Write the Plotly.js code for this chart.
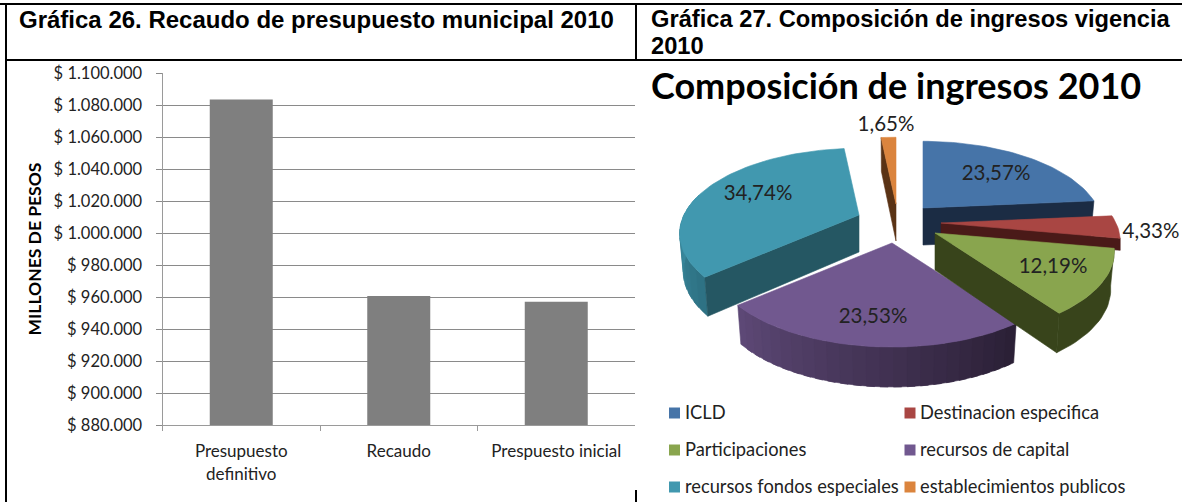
<!DOCTYPE html>
<html><head><meta charset="utf-8">
<script src="https://cdn.plot.ly/plotly-3.0.1.min.js"></script>
<style>html,body{margin:0;padding:0;background:#fff}#c{width:1182px;height:502px}</style>
</head><body><div id="c"></div>
<script>
// ---- data ----
const barCategories = ['Presupuesto<br>definitivo', 'Recaudo', 'Prespuesto inicial'];
const barValues = [1083500, 960700, 957000];
const yTickValues = [880000,900000,920000,940000,960000,980000,1000000,1020000,1040000,1060000,1080000,1100000];
const yTickLabels = ['$ 880.000','$ 900.000','$ 920.000','$ 940.000','$ 960.000','$ 980.000','$ 1.000.000','$ 1.020.000','$ 1.040.000','$ 1.060.000','$ 1.080.000','$ 1.100.000'];
const pieCategories = ['ICLD','Destinacion especifica','Participaciones','recursos de capital','recursos fondos especiales','establecimientos publicos'];
const pieValues = [23.57, 4.33, 12.19, 23.53, 34.74, 1.65];

// ---- styling / layout ----
const W = 1182, H = 502;
const LATO = 'Lato, "Open Sans", sans-serif';
const ARIAL = '"Liberation Sans", Arial, sans-serif';
const pieColors = ['#4674A8','#A94643','#89A54E','#71588F','#4198AF','#DB843D'];
const pieCutColors = ['#1B2C44','#4A1A18','#38441B','#2D2138','#255763','#5A3315'];
const sliceApex = [[923,208],[941,223],[935,233],[892,243],[859,215],[896,204]];
const labelPos = [[996,174.5],[1151,232.5],[1053,267.5],[873,317.5],[758,195],[886,126]];
const legendPos = [[674.5,413],[910,413],[674.5,450],[910,450],[674.5,487],[910,487]];
const legendTextX = [685,920,685,920,685,920];
const legendTextY = [414.5,414.5,451.5,451.5,488.5,488.5];
const RX = 175, RY = 81.3, K = 0.2187;

function rim(i, deg, depth) {
  const a = deg*Math.PI/180, X = Math.sin(a), Y = -Math.cos(a), s = 1/(1-K*Y);
  const d = depth ? (depth===true ? 37+3*Y : depth) : 0, shrink = depth===true ? 0.98 : 1;
  return [sliceApex[i][0] + X*RX*s*shrink, sliceApex[i][1] + Y*RY*s + d];
}
function poly(xy, color) {
  const c = xy.concat([xy[0]]);
  return {x:c.map(p=>p[0]), y:c.map(p=>p[1]), xaxis:'x2', yaxis:'y2', mode:'lines', fill:'toself',
    fillcolor:color, line:{color:color,width:0.6}, hoverinfo:'skip', showlegend:false};
}
function arc(i, a0, a1, depth) {
  const n = Math.max(2, Math.ceil(Math.abs(a1-a0)/2)), out = [];
  for (let k=0;k<=n;k++) out.push(rim(i, a0+(a1-a0)*k/n, depth));
  return out;
}
function mix(c1,c2,t){
  const p=c=>[1,3,5].map(j=>parseInt(c.substr(j,2),16));
  const a=p(c1),b=p(c2);
  return 'rgb('+a.map((v,j)=>Math.round(v+(b[j]-v)*t)).join(',')+')';
}
function rimWall(i,a0,a1,c0,c1,steps){
  const t=[];
  for(let k=0;k<steps;k++){
    const u=a0+(a1-a0)*k/steps, v=a0+(a1-a0)*Math.min(steps,k+1.6)/steps;
    t.push(poly(arc(i,u,v,false).concat(arc(i,v,u,true)), mix(c0,c1,k/Math.max(1,steps-1))));
  }
  return t;
}
function cutWall(i,deg,color,depth){
  const ax=sliceApex[i], dp=depth||true;
  return poly([ax,rim(i,deg,false),rim(i,deg,dp),[ax[0],ax[1]+(depth||37)]],color);
}

// slice angles from the values
const total = pieValues.reduce((a,b)=>a+b,0);
const starts=[], ends=[];
pieValues.reduce((acc,v,i)=>{starts[i]=acc/total*360; ends[i]=(acc+v)/total*360; return acc+v;},0);

const surface = i => poly([sliceApex[i]].concat(arc(i,starts[i],ends[i],false)), pieColors[i]);
const pieTraces = [];
pieTraces.push(cutWall(0,ends[0],pieCutColors[0]), surface(0));
pieTraces.push(...rimWall(4,starts[4],285,'#2E7284','#3F93A8',10), cutWall(4,starts[4],pieCutColors[4]), surface(4));
pieTraces.push(cutWall(5,starts[5],pieCutColors[5]), surface(5));
pieTraces.push(cutWall(1,ends[1],pieCutColors[1],12), surface(1));
pieTraces.push(...rimWall(3,ends[3],starts[3],'#5D4876','#2B2036',24), surface(3));
pieTraces.push(...rimWall(2,starts[2],ends[2],pieCutColors[2],pieCutColors[2],1), cutWall(2,ends[2],pieCutColors[2]), surface(2));

const bar = {type:'bar', x:barCategories, y:barValues, marker:{color:'#7F7F7F'}, width:0.4, hoverinfo:'x+y', showlegend:false};
const pct = pieValues.map(v=>v.toFixed(2).replace('.',',')+'%');
const pieLabels = {x:labelPos.map(p=>p[0]), y:labelPos.map(p=>p[1]), xaxis:'x2', yaxis:'y2', mode:'text', text:pct,
  textposition:'middle center', textfont:{family:LATO,size:20.5,color:'#222'}, hoverinfo:'skip', showlegend:false, cliponaxis:false};
const legendMarks = {x:legendPos.map(p=>p[0]), y:legendPos.map(p=>p[1]), xaxis:'x2', yaxis:'y2', mode:'markers',
  marker:{symbol:'square',size:11,color:pieColors}, hoverinfo:'skip', showlegend:false, cliponaxis:false};
const legendText = {x:legendTextX, y:legendTextY, xaxis:'x2', yaxis:'y2', mode:'text', text:pieCategories, textposition:'middle right',
  textfont:{family:LATO,size:18.3,color:'#222'}, hoverinfo:'skip', showlegend:false, cliponaxis:false};

const line=(x0,y0,x1,y1)=>({type:'line',xref:'paper',yref:'paper',x0:x0/W,x1:x1/W,y0:1-y0/H,y1:1-y1/H,line:{color:'#000',width:2},layer:'above'});
const layout = {
  width:W, height:H, margin:{l:0,r:0,t:0,b:0}, paper_bgcolor:'#fff', plot_bgcolor:'rgba(0,0,0,0)', showlegend:false,
  xaxis:{domain:[162.5/W,635/W], anchor:'y', type:'category', tickson:'boundaries', ticks:'outside', ticklen:5, tickcolor:'#9a9a9a',
    showgrid:false, showline:true, linecolor:'#9a9a9a', tickfont:{family:LATO,size:17,color:'#222'}, ticklabelstandoff:11, range:[-0.5,2.5], fixedrange:true},
  yaxis:{domain:[1-425/H,1-73/H], anchor:'x', range:[880000,1100000], tickvals:yTickValues, ticktext:yTickLabels, tickmode:'array',
    ticks:'outside', ticklen:6, tickcolor:'#8a8a8a', gridcolor:'#8a8a8a', gridwidth:1, showline:true, linecolor:'#9a9a9a', zeroline:false,
    tickfont:{family:LATO,size:16.5,color:'#222'}, ticklabelstandoff:10, fixedrange:true,
    title:{text:'MILLONES DE PESOS', font:{family:LATO,size:17.5,color:'#000',weight:700}, standoff:7}},
  xaxis2:{domain:[0,1], anchor:'y2', range:[0,W], visible:false, fixedrange:true},
  yaxis2:{domain:[0,1], anchor:'x2', range:[H,0], visible:false, fixedrange:true},
  shapes:[line(0,4,W,4), line(6,60,W,60), line(6,4,6,H), line(636,4,636,60), line(636,490,636,H)],
  annotations:[
    {xref:'paper',yref:'paper',x:17/W,y:1-20/H,xanchor:'left',yanchor:'middle',showarrow:false,text:'<b>Gráfica 26. Recaudo de presupuesto municipal 2010</b>',font:{family:ARIAL,size:24,color:'#000'}},
    {xref:'paper',yref:'paper',x:649/W,y:1-19/H,xanchor:'left',yanchor:'middle',showarrow:false,text:'<b>Gráfica 27. Composición de ingresos vigencia</b>',font:{family:ARIAL,size:23.7,color:'#000'}},
    {xref:'paper',yref:'paper',x:649/W,y:1-46/H,xanchor:'left',yanchor:'middle',showarrow:false,text:'<b>2010</b>',font:{family:ARIAL,size:23.7,color:'#000'}},
    {xref:'paper',yref:'paper',x:649/W,y:1-85/H,xanchor:'left',yanchor:'middle',showarrow:false,text:'<b>Composición de ingresos 2010</b>',font:{family:LATO,size:36,color:'#000'}}
  ]
};
Plotly.newPlot('c',[bar].concat(pieTraces,[pieLabels,legendMarks,legendText]),layout,{displayModeBar:false,staticPlot:true});
</script></body></html>
